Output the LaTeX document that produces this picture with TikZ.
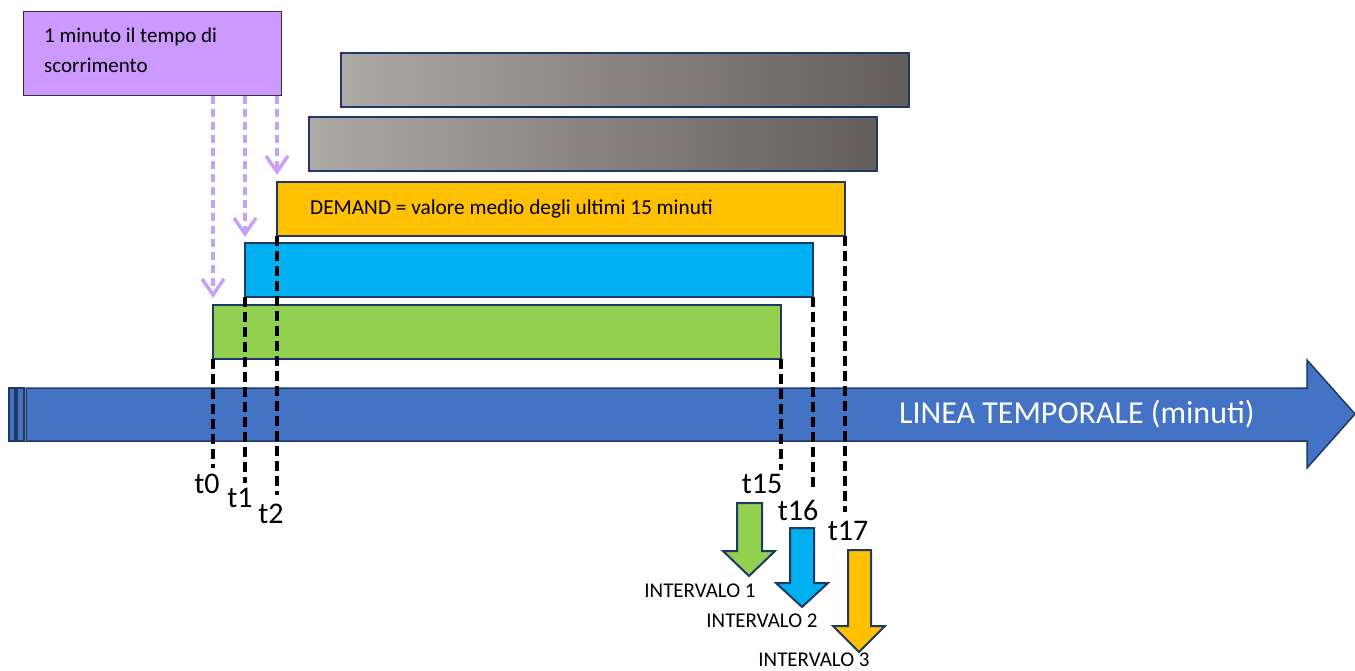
\documentclass[tikz,border=0pt]{standalone}
\usepackage{fontspec}
\setmainfont{Carlito}
\usetikzlibrary{arrows.meta}

\definecolor{lilla}{HTML}{CC99FF}
\definecolor{lillafreccia}{HTML}{C9A0F8}
\definecolor{navy}{HTML}{1F3864}
\definecolor{verdebarra}{HTML}{92D050}
\definecolor{azzurro}{HTML}{00B0F0}
\definecolor{arancio}{HTML}{FFC000}
\definecolor{grigiochiaro}{HTML}{ADA9A5}
\definecolor{grigioscuro}{HTML}{635D5E}
\definecolor{blutempo}{HTML}{4472C4}

\begin{document}
\begin{tikzpicture}[x=1pt,y=-1pt,
  barra/.style={draw=navy,line width=2pt,minimum width=568pt,minimum height=54pt,inner sep=0pt,outer sep=0pt,anchor=north west},
  tratto/.style={line width=3.5pt,dash pattern=on 10pt off 5pt},
  scorre/.style={lillafreccia,line width=3.5pt,dash pattern=on 8pt off 5pt,-{Straight Barb[length=16pt,width=22pt,line width=3.5pt]}},
  etichetta/.style={font=\fontsize{30}{30}\selectfont,anchor=base,inner sep=0pt},
  intervallo/.style={font=\fontsize{21}{21}\selectfont,anchor=base,inner sep=0pt},
  freccia/.style={draw=navy,line width=2pt,line join=miter}]
\useasboundingbox (0,0) rectangle (1355,671);
\node[barra,left color=grigiochiaro,right color=grigioscuro] (grigio1) at (341,53) {};
\node[barra,left color=grigiochiaro,right color=grigioscuro] (grigio2) at (309,117) {};
\node[barra,fill=arancio] (demand) at (277,182) {};
\node[anchor=west,inner sep=0pt,font=\fontsize{21.3}{21.3}\selectfont] (testodemand) at ([xshift=33pt]demand.west) {DEMAND = valore medio degli ultimi 15 minuti};
\node[barra,fill=azzurro] (blu) at (245,243) {};
\node[barra,fill=verdebarra] (verde) at (213,305) {};
\node[draw=black!80,fill=lilla,line width=1pt,minimum width=258pt,minimum height=84pt,inner sep=0pt,outer sep=0pt,anchor=north west] (minuto) at (23,12) {};
\node[anchor=base west,align=left,inner sep=0pt,font=\fontsize{21}{30}\selectfont] (testominuto) at (44,73) {1 minuto il tempo di\\scorrimento};
\draw[scorre] (minuto.south -| verde.west) -- ([yshift=7pt]verde.north west);
\draw[scorre] (minuto.south -| blu.west) -- ([yshift=6pt]blu.north west);
\draw[scorre] (minuto.south -| demand.west) -- ([yshift=7pt]demand.north west);
\filldraw[fill=blutempo,draw=navy,line width=1.5pt] (9,388) rectangle (15,441);
\filldraw[fill=blutempo,draw=navy,line width=1.5pt] (17,388) rectangle (24,441);
\filldraw[fill=blutempo,draw=navy,line width=1.5pt] (26,388) -- (1307,388) -- (1307,360) -- (1355,414) -- (1307,468) -- (1307,441) -- (26,441) -- cycle;
\node[anchor=west,inner sep=0pt,text=white,font=\fontsize{32}{32}\selectfont] (linea) at (899,414) {LINEA TEMPORALE (minuti)};
\coordinate (fine0) at (213,468);
\coordinate (fine1) at (245,483);
\coordinate (fine2) at (277,495);
\coordinate (fine15) at (781,470);
\coordinate (fine16) at (813,487);
\coordinate (fine17) at (845,512);
\draw[tratto] (verde.south west) -- (fine0);
\draw[tratto] (blu.south west) -- (fine1);
\draw[tratto] (demand.south west) -- (fine2);
\draw[tratto] (verde.south east) -- (fine15);
\draw[tratto] (blu.south east) -- (fine16);
\draw[tratto] (demand.south east) -- (fine17);
\node[etichetta] (t0) at (207,493) {t0};
\node[etichetta] (t1) at (240,507) {t1};
\node[etichetta] (t2) at (271,523) {t2};
\node[etichetta] (t15) at (762,493) {t15};
\node[etichetta] (t16) at (798,520) {t16};
\node[etichetta] (t17) at (848,540) {t17};
\filldraw[freccia,fill=verdebarra] (737,503) -- (762,503) -- (762,551) -- (775,551) -- (749,576) -- (723,551) -- (737,551) -- cycle;
\filldraw[freccia,fill=azzurro] (790,528) -- (814,528) -- (814,583) -- (828,583) -- (802,607) -- (776,583) -- (790,583) -- cycle;
\filldraw[freccia,fill=arancio] (848,550) -- (871,550) -- (871,626) -- (885,626) -- (859,652) -- (833,626) -- (848,626) -- cycle;
\node[intervallo] (int1) at (700,597) {INTERVALO 1};
\node[intervallo] (int2) at (762,627) {INTERVALO 2};
\node[intervallo] (int3) at (814,666) {INTERVALO 3};
\end{tikzpicture}
\end{document}
